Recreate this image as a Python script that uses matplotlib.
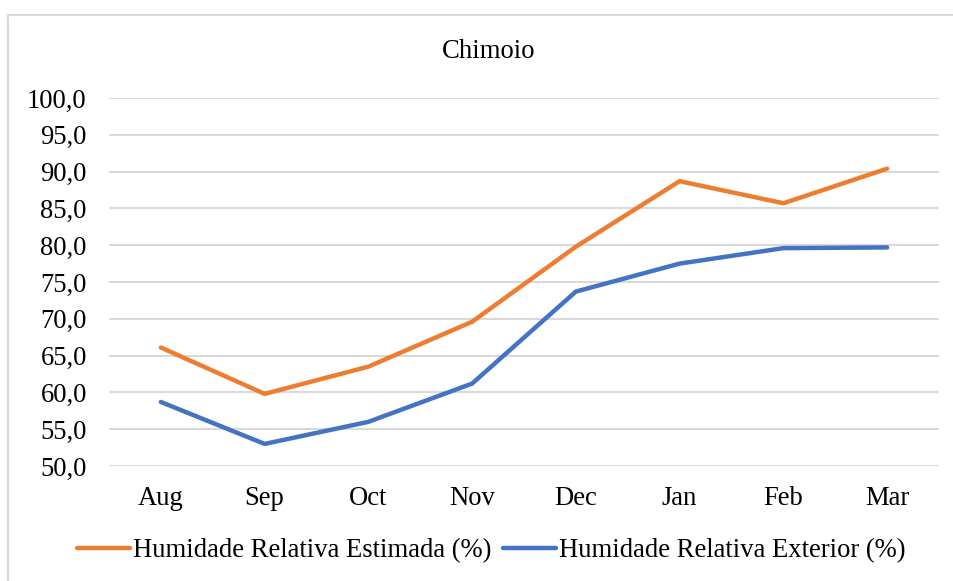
import matplotlib
matplotlib.use("Agg")
import matplotlib.pyplot as plt
from matplotlib.lines import Line2D

months = ["Aug", "Sep", "Oct", "Nov", "Dec", "Jan", "Feb", "Mar"]
hr_estimada = [66.1, 59.8, 63.5, 69.6, 79.8, 88.7, 85.7, 90.4]
hr_exterior = [58.7, 53.0, 56.0, 61.2, 73.7, 77.5, 79.6, 79.7]
yticks = [50, 55, 60, 65, 70, 75, 80, 85, 90, 95, 100]

ORANGE = "#ED7D31"
BLUE = "#4472C4"
GRID = "#d9d9d9"
FS = 19.2

plt.rcParams['font.family'] = ['Liberation Serif', 'DejaVu Serif']

W, H = 954, 581
fig = plt.figure(figsize=(W / 100, H / 100), dpi=100)

# chart border (only left/top visible in reference)
fig.add_artist(Line2D([8.5 / W, 8.5 / W], [0, 1 - 14.5 / H], color=GRID, lw=1.5))
fig.add_artist(Line2D([8.5 / W, 1], [1 - 14.5 / H, 1 - 14.5 / H], color=GRID, lw=1.5))

ax = fig.add_axes([109 / W, 1 - 466 / H, (939 - 109) / W, (466 - 98) / H])
x = range(len(months))
ax.plot(x, hr_estimada, color=ORANGE, lw=3.2, solid_capstyle="round", solid_joinstyle="round",
        label="Humidade Relativa Estimada (%)", zorder=3)
ax.plot(x, hr_exterior, color=BLUE, lw=3.2, solid_capstyle="round", solid_joinstyle="round",
        label="Humidade Relativa Exterior (%)", zorder=3)

ax.set_xlim(-0.5, len(months) - 0.5)
ax.set_ylim(50, 100)
ax.set_yticks(yticks)
ax.set_yticklabels([f"{v:.1f}".replace(".", ",") for v in yticks])
ax.set_xticks(list(x))
ax.set_xticklabels(months)
ax.tick_params(axis="y", length=0, pad=16, labelsize=FS)
ax.tick_params(axis="x", length=0, pad=14.5, labelsize=FS)
ax.grid(axis="y", color=GRID, lw=1.5)
ax.set_axisbelow(True)
for s in ax.spines.values():
    s.set_visible(False)

fig.text(489 / W, 1 - 52 / H, "Chimoio", ha="center", va="center", fontsize=FS)

fig.legend(loc="center", bbox_to_anchor=(491 / W, 1 - 551 / H), ncol=2, frameon=False,
           fontsize=FS, handlelength=2.0, handletextpad=0.1, columnspacing=0.45,
           borderaxespad=0, borderpad=0)

fig.savefig("out.png", dpi=100)
